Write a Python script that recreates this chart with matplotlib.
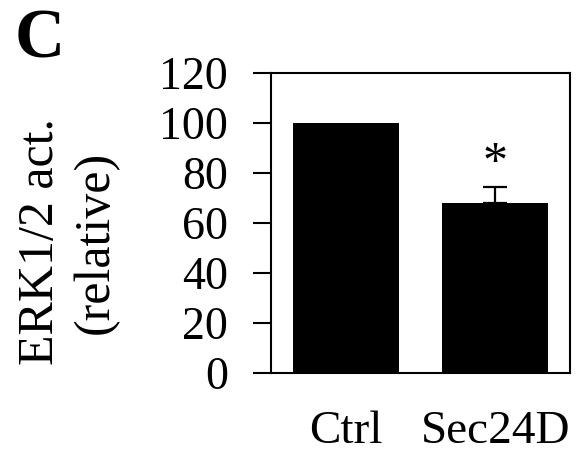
import matplotlib
matplotlib.use("Agg")
import matplotlib.pyplot as plt
import numpy as np

# datos
grupos = ["Ctrl", "Sec24D"]
actividad = [100, 68]
error_sup = [0, 6.5]
marca = ["", "*"]

plt.rcParams['font.family'] = ['Liberation Serif', 'DejaVu Serif']

fig = plt.figure(figsize=(5.88, 4.59), dpi=100)
ax = fig.add_axes([271/588, 1-373/459, 299/588, 300/459])

x = np.arange(len(grupos))
ax.bar(x, actividad, width=0.71, color='black')
ax.errorbar(x[1:], actividad[1:], yerr=[[0], error_sup[1:]], fmt='none',
            ecolor='black', elinewidth=1.6, capsize=8.5, capthick=1.6)

for i, m in enumerate(marca):
    if m:
        ax.annotate(m, (x[i], actividad[i] + error_sup[i]), xytext=(0, 0),
                    textcoords='offset points', ha='center', va='bottom',
                    fontsize=36)

ax.set_xlim(-0.5, 1.5)
ax.set_ylim(0, 120)
ax.set_yticks(np.arange(0, 121, 20))
ax.set_xticks(x)
ax.set_xticklabels(grupos, fontsize=34)
ax.tick_params(axis='x', length=0, pad=27)
ax.tick_params(axis='y', direction='out', length=13, width=1.5, pad=18,
               labelsize=33)
for s in ax.spines.values():
    s.set_linewidth(1.5)

fig.text(68/588, 1-242/459, "ERK1/2 act.\n(relative)",
         rotation=90, ha='center', va='center', fontsize=36, linespacing=1.25)
fig.text(15/588, 1-57/459, "C", fontsize=50, fontweight='bold',
         va='baseline', ha='left')

fig.savefig("out.png", dpi=100)
